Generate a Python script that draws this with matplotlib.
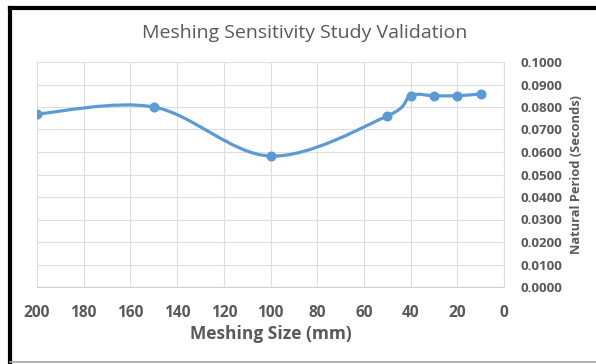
import matplotlib.pyplot as plt
import numpy as np
from matplotlib.path import Path
from matplotlib.patches import PathPatch
from matplotlib.lines import Line2D

mesh_size = [200, 150, 100, 50, 40, 30, 20, 10]
period = [0.0769, 0.0800, 0.0582, 0.0760, 0.0850, 0.0850, 0.0850, 0.0858]
x_ticks = list(range(0, 201, 20))
y_ticks = [i / 100 for i in range(0, 11)]

blue = '#5B9BD5'
gray = '#595959'
plt.rcParams['font.family'] = ['Open Sans', 'DejaVu Sans']


def smooth_path(xs, ys):
    # excel style smoothed line: catmull-rom segments as cubic beziers
    p = np.column_stack([xs, ys]).astype(float)
    verts = [p[0]]
    codes = [Path.MOVETO]
    n = len(p)
    for i in range(n - 1):
        p0 = p[i - 1] if i > 0 else p[i]
        p1 = p[i]
        p2 = p[i + 1]
        p3 = p[i + 2] if i + 2 < n else p[i + 1]
        c1 = p1 + (p2 - p0) / 6
        c2 = p2 - (p3 - p1) / 6
        verts += [c1, c2, p2]
        codes += [Path.CURVE4] * 3
    return Path(verts, codes)


fig = plt.figure(figsize=(5.96, 3.64), dpi=100)
ax = fig.add_axes([37 / 596, 77 / 364, 467 / 596, 225 / 364])

ax.add_patch(PathPatch(smooth_path(mesh_size, period), facecolor='none',
                       edgecolor=blue, lw=2.3, capstyle='round', zorder=3))
ax.plot(mesh_size, period, 'o', color=blue, ms=6.2, zorder=4)

ax.set_xlim(200, 0)
ax.set_ylim(0, 0.1)
ax.set_xticks(x_ticks)
ax.set_yticks(y_ticks)
ax.set_yticklabels(['%.4f' % v for v in y_ticks])
ax.yaxis.tick_right()
ax.yaxis.set_label_position('right')
ax.grid(True, color='#dedede', lw=0.8)
ax.set_axisbelow(True)
for s in ['top', 'left']:
    ax.spines[s].set_visible(False)
ax.spines['right'].set_color('#dedede')
ax.spines['bottom'].set_color('#d0d0d0')
ax.tick_params(length=0)
ax.tick_params(axis='x', pad=13, labelsize=11.2, labelcolor=gray)
ax.tick_params(axis='y', pad=12, labelsize=9.6, labelcolor=gray)
for lab in ax.get_xticklabels() + ax.get_yticklabels():
    lab.set_fontweight('bold')

ax.set_xlabel('Meshing Size (mm)', fontsize=12.5, fontweight='bold', color=gray, labelpad=3)
ax.set_ylabel('Natural Period (Seconds)', fontsize=9.3, fontweight='bold', color=gray, labelpad=5)

fig.text(305 / 596, 1 - 33 / 364, 'Meshing Sensitivity Study Validation',
         ha='center', va='center', fontsize=14, color=gray)

# chart frame
fig.add_artist(Line2D([10 / 596, 1], [1 - 8 / 364] * 2, transform=fig.transFigure, color='black', lw=3))
fig.add_artist(Line2D([10 / 596] * 2, [0, 1 - 8 / 364], transform=fig.transFigure, color='black', lw=3))
fig.add_artist(Line2D([10 / 596, 1], [2 / 364] * 2, transform=fig.transFigure, color='#a6a6a6', lw=1.2))

plt.savefig('out.png', dpi=100)
